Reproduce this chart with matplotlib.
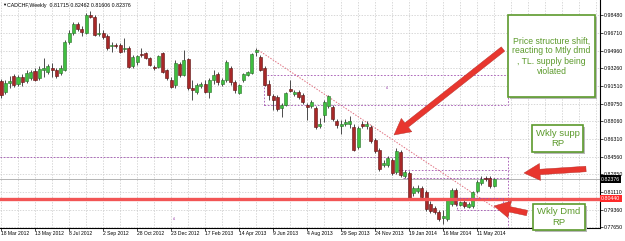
import numpy as np
import matplotlib.pyplot as plt
from matplotlib.patches import Rectangle, FancyArrow

plt.rcParams['font.family'] = ['Liberation Sans', 'DejaVu Sans']

# CADCHF weekly candles, 18 Mar 2012 .. 8 Jun 2014
opens = [0.9200, 0.9092, 0.9180, 0.9249, 0.9171, 0.9239, 0.9200, 0.9230, 0.9298, 0.9230,
         0.9308, 0.9288, 0.9328, 0.9308, 0.9279, 0.9308, 0.9583, 0.9671, 0.9760, 0.9711,
         0.9671, 0.9848, 0.9828, 0.9661, 0.9671, 0.9642, 0.9544, 0.9553, 0.9553, 0.9514,
         0.9524, 0.9347, 0.9387, 0.9465, 0.9475, 0.9426, 0.9338, 0.9338, 0.9475, 0.9308,
         0.9210, 0.9161, 0.9367, 0.9259, 0.9416, 0.9131, 0.9092, 0.9151, 0.9171, 0.9092,
         0.9210, 0.9269, 0.9171, 0.9210, 0.9328, 0.9190, 0.9082, 0.9210, 0.9259, 0.9279,
         0.9485, 0.9436, 0.9328, 0.9171, 0.9053, 0.9043, 0.8935, 0.8964, 0.9122, 0.9072,
         0.9092, 0.9063, 0.8964, 0.8955, 0.8935, 0.8758, 0.8866, 0.8955, 0.8945, 0.8807,
         0.8758, 0.8778, 0.8778, 0.8748, 0.8552, 0.8778, 0.8758, 0.8748, 0.8621, 0.8522,
         0.8375, 0.8375, 0.8424, 0.8306, 0.8503, 0.8267, 0.8297, 0.8100, 0.8120, 0.8149,
         0.8110, 0.7992, 0.7953, 0.7914, 0.7855, 0.7845, 0.7992, 0.8130, 0.7982, 0.8012,
         0.7963, 0.7973, 0.8120, 0.8199, 0.8248, 0.8248, 0.81715]
highs = [0.9220, 0.9210, 0.9249, 0.9269, 0.9259, 0.9269, 0.9308, 0.9308, 0.9328, 0.9347,
         0.9426, 0.9367, 0.9377, 0.9328, 0.9357, 0.9603, 0.9701, 0.9779, 0.9779, 0.9740,
         0.9868, 0.9887, 0.9848, 0.9770, 0.9701, 0.9661, 0.9583, 0.9573, 0.9573, 0.9622,
         0.9544, 0.9455, 0.9455, 0.9524, 0.9485, 0.9436, 0.9357, 0.9455, 0.9485, 0.9318,
         0.9239, 0.9406, 0.9387, 0.9504, 0.9426, 0.9210, 0.9180, 0.9190, 0.9210, 0.9230,
         0.9308, 0.9288, 0.9230, 0.9406, 0.9347, 0.9210, 0.9171, 0.9279, 0.9298, 0.9475,
         0.9524, 0.9455, 0.9347, 0.9210, 0.9072, 0.9063, 0.8984, 0.9092, 0.9210, 0.9112,
         0.9112, 0.9082, 0.8984, 0.9013, 0.8955, 0.8837, 0.9013, 0.9063, 0.8964, 0.8827,
         0.8817, 0.8827, 0.8856, 0.8778, 0.8758, 0.8807, 0.8807, 0.8768, 0.8640, 0.8542,
         0.8424, 0.8463, 0.8444, 0.8542, 0.8522, 0.8326, 0.8316, 0.8169, 0.8179, 0.8169,
         0.8130, 0.8022, 0.7973, 0.7933, 0.7933, 0.8051, 0.8149, 0.8149, 0.8022, 0.8031,
         0.8012, 0.8120, 0.8228, 0.8267, 0.8267, 0.8267, 0.82462]
lows = [0.9033, 0.9072, 0.9131, 0.9141, 0.9151, 0.9151, 0.9180, 0.9210, 0.9200, 0.9210,
        0.9239, 0.9269, 0.9239, 0.9230, 0.9259, 0.9298, 0.9563, 0.9652, 0.9691, 0.9642,
        0.9661, 0.9819, 0.9642, 0.9642, 0.9612, 0.9504, 0.9485, 0.9524, 0.9475, 0.9485,
        0.9328, 0.9328, 0.9357, 0.9436, 0.9416, 0.9347, 0.9308, 0.9328, 0.9279, 0.9210,
        0.9131, 0.9131, 0.9239, 0.9249, 0.9112, 0.9013, 0.9072, 0.9131, 0.9082, 0.9033,
        0.9171, 0.9161, 0.9151, 0.9190, 0.9161, 0.9082, 0.9072, 0.9190, 0.9249, 0.9269,
        0.9445, 0.9298, 0.9151, 0.9013, 0.8915, 0.8905, 0.8846, 0.8955, 0.9092, 0.9053,
        0.9023, 0.8974, 0.8817, 0.8935, 0.8729, 0.8738, 0.8797, 0.8935, 0.8807, 0.8738,
        0.8680, 0.8758, 0.8738, 0.8512, 0.8532, 0.8738, 0.8729, 0.8591, 0.8493, 0.8316,
        0.8355, 0.8355, 0.8277, 0.8287, 0.8257, 0.8248, 0.8031, 0.8071, 0.8100, 0.8041,
        0.7923, 0.7904, 0.7894, 0.7825, 0.7796, 0.7825, 0.7973, 0.7973, 0.7973, 0.7953,
        0.7953, 0.7953, 0.8100, 0.8179, 0.8218, 0.8149, 0.81606]
closes = [0.9063, 0.9180, 0.9200, 0.9161, 0.9239, 0.9190, 0.9279, 0.9288, 0.9210, 0.9318,
          0.9328, 0.9347, 0.9308, 0.9249, 0.9328, 0.9583, 0.9671, 0.9760, 0.9711, 0.9681,
          0.9848, 0.9828, 0.9652, 0.9671, 0.9632, 0.9524, 0.9553, 0.9544, 0.9485, 0.9524,
          0.9338, 0.9436, 0.9445, 0.9455, 0.9426, 0.9357, 0.9328, 0.9445, 0.9288, 0.9230,
          0.9141, 0.9377, 0.9259, 0.9406, 0.9131, 0.9112, 0.9161, 0.9171, 0.9092, 0.9210,
          0.9259, 0.9190, 0.9210, 0.9387, 0.9190, 0.9112, 0.9161, 0.9269, 0.9288, 0.9465,
          0.9504, 0.9308, 0.9161, 0.9063, 0.9013, 0.8925, 0.8964, 0.9082, 0.9102, 0.9092,
          0.9043, 0.8994, 0.8945, 0.8994, 0.8748, 0.8778, 0.8994, 0.9053, 0.8827, 0.8768,
          0.8778, 0.8797, 0.8807, 0.8522, 0.8738, 0.8758, 0.8778, 0.8611, 0.8512, 0.8336,
          0.8395, 0.8444, 0.8297, 0.8512, 0.8277, 0.8306, 0.8041, 0.8149, 0.8149, 0.8061,
          0.7943, 0.7923, 0.7914, 0.7845, 0.7874, 0.8031, 0.8130, 0.7992, 0.8012, 0.7973,
          0.7992, 0.8110, 0.8208, 0.8238, 0.8238, 0.8169, 0.82376]

date_labels = ['18 Mar 2012', '13 May 2012', '8 Jul 2012', '2 Sep 2012', '28 Oct 2012',
               '23 Dec 2012', '17 Feb 2013', '14 Apr 2013', '9 Jun 2013', '4 Aug 2013',
               '29 Sep 2013', '24 Nov 2013', '19 Jan 2014', '16 Mar 2014', '11 May 2014']
price_labels = ['0.98480', '0.96710', '0.94960', '0.93260', '0.91510', '0.89750', '0.88060',
                '0.86310', '0.84560', '0.82850', '0.81110', '0.79360', '0.77650']
support_level = 0.80440
last_price = 0.82376
title = 'CADCHF,Weekly  0.81715 0.82462 0.81606 0.82376'

W, H = 625, 241
fig = plt.figure(figsize=(W / 100, H / 100), dpi=100)
ax = fig.add_axes([0, 13 / H, 600 / W, 228 / H])

n = len(opens)
x = np.arange(n)
o = np.array(opens)
c = np.array(closes)
up = c >= o

ax.vlines(x, lows, highs, color='#303030', lw=0.6, zorder=3)
body = np.maximum(np.abs(c - o), 0.0004)
ax.bar(x[up], body[up], bottom=o[up], width=0.72, color='#3fbf3f',
       edgecolor='#2a6e2a', lw=0.4, zorder=4)
ax.bar(x[~up], body[~up], bottom=c[~up], width=0.72, color='#a82828',
       edgecolor='#5a1010', lw=0.4, zorder=4)

ax.set_xlim(-0.24, 140.9)
ax.set_ylim(0.77565, 0.99954)

# grid
yt = [float(v) for v in price_labels]
for v in yt:
    ax.axhline(v, color='#c8c8c8', lw=0.5, ls=(0, (2, 2)), zorder=1)
for v in range(0, 141, 4):
    ax.axvline(v, color='#c8c8c8', lw=0.5, ls=(0, (2, 2)), zorder=1)

ax.set_yticks(yt, price_labels)
ax.yaxis.tick_right()
ax.tick_params(axis='y', length=2, width=0.5, labelsize=3.8, pad=1)
ax.set_xticks(np.arange(0, n, 8), date_labels)
ax.tick_params(axis='x', length=2, width=0.5, labelsize=3.6, pad=0.5)
for lbl in ax.get_xticklabels():
    lbl.set_ha('left')
for s in ['top', 'left']:
    ax.spines[s].set_visible(False)
ax.spines['right'].set_linewidth(0.8)
ax.spines['bottom'].set_linewidth(0.8)

# levels
ax.axhline(support_level, color='#f25555', lw=2.4, zorder=5)
ax.axhline(last_price, color='#a8a8a8', lw=0.6, zorder=2)
ax.text(1.002, support_level, f'{support_level:.5f}', transform=ax.get_yaxis_transform(),
        fontsize=3.8, color='white', va='center', ha='left',
        bbox=dict(fc='#ff2a2a', ec='none', pad=0.8))
ax.text(1.002, last_price, f'{last_price:.5f}', transform=ax.get_yaxis_transform(),
        fontsize=3.8, color='white', va='center', ha='left',
        bbox=dict(fc='black', ec='none', pad=0.8))

# trend line + supply / demand zones
purple = '#a050b0'
ax.plot([60.5, 116.2], [0.9504, 0.7953], color='#e07080', lw=0.7, ls=(0, (1.5, 1.5)), zorder=2)
ax.add_patch(Rectangle((61.9, 0.8964), 57.4, 0.0295, fill=False, ec=purple, lw=0.6,
                       ls=(0, (2, 2)), zorder=2))
ax.plot([-0.2, 119.3], [0.8454, 0.8454], color=purple, lw=0.6, ls=(0, (2, 2)), zorder=2)
ax.plot([119.3, 119.3], [0.8454, 0.77565], color=purple, lw=0.6, ls=(0, (2, 2)), zorder=2)
ax.plot([93.4, 119.5], [0.8326, 0.8326], color=purple, lw=0.6, ls=(0, (2, 2)), zorder=2)
ax.plot([94.6, 119.5], [0.8248, 0.8248], color=purple, lw=0.6, ls=(0, (2, 2)), zorder=2)
ax.add_patch(Rectangle((107.3, 0.7933), 10.8, 0.0118, fill=False, ec=purple, lw=0.6,
                       ls=(0, (2, 2)), zorder=6))
ax.text(90.5, 0.9117, 'r1', fontsize=2.5, color=purple)
ax.text(40.3, 0.7835, 'r1', fontsize=2.5, color=purple)

# overlay in pixel units for the hand-drawn notes
ov = fig.add_axes([0, 0, 1, 1])
ov.set_xlim(0, W)
ov.set_ylim(H, 0)
ov.axis('off')
ov.patch.set_alpha(0)

ov.text(2, 5, '\u25bc', fontsize=3, va='center', ha='left')
ov.text(7, 5, title, fontsize=3.8, va='center', ha='left')

green = '#5c9a2c'
def note(x0, y0, x1, y1, txt, fs):
    ov.add_patch(Rectangle((x0 + 2, y0 + 2), x1 - x0, y1 - y0, fc='#b8b8b8', ec='none',
                           zorder=7, clip_on=False))
    ov.add_patch(Rectangle((x0, y0), x1 - x0, y1 - y0, fc='white', ec=green, lw=1.2,
                           zorder=8, clip_on=False))
    ov.text((x0 + x1) / 2, (y0 + y1) / 2, txt, fontsize=fs, color=green, ha='center',
            va='center', linespacing=1.15, zorder=9)

note(508, 15, 595, 97, 'Price structure shift,\nreacting to Mtly dmd\n, TL. supply being\nviolated', 6.2)
note(532, 125, 583, 152, 'Wkly supp\nRP', 6.8)
note(533, 204, 585, 230, 'Wkly Dmd\nRP', 6.8)

red = '#e8362e'
for (tx, ty, hx, hy) in [(503, 49, 394, 135), (586, 169, 524, 173), (527, 213, 494, 206)]:
    ov.add_patch(FancyArrow(tx, ty, hx - tx, hy - ty, width=5.5, head_width=17,
                            head_length=16, length_includes_head=True, fc=red, ec='#b02a24',
                            lw=0.3, zorder=10))

fig.savefig('out.png', dpi=100)
